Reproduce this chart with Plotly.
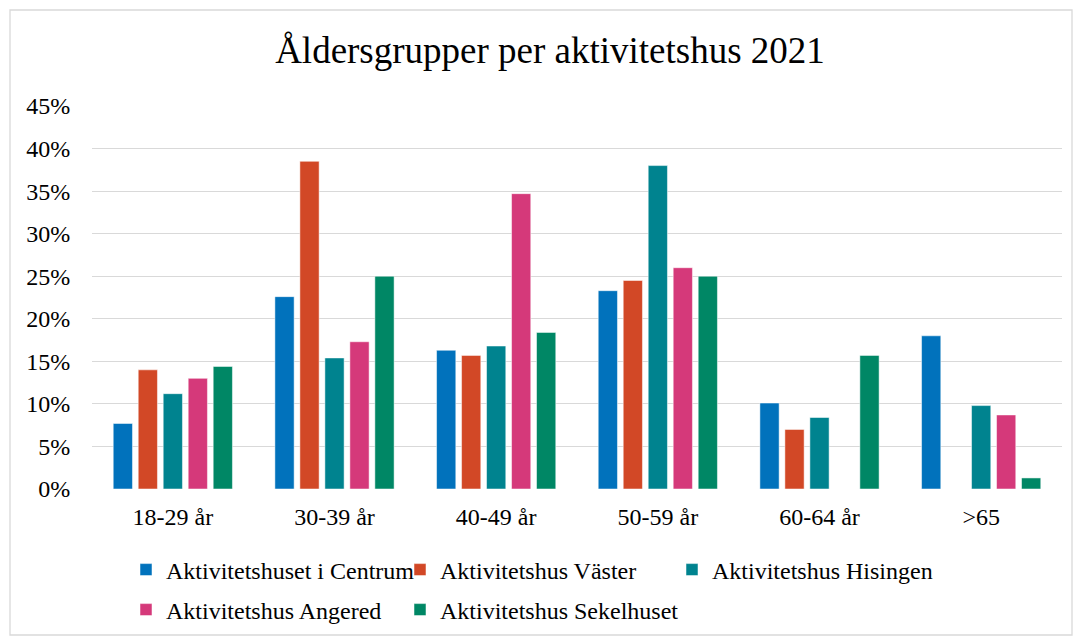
import plotly.graph_objects as go

categories = ["18-29 år", "30-39 år", "40-49 år", "50-59 år", "60-64 år", ">65"]
centrum = [7.7, 22.6, 16.3, 23.3, 10.1, 18.0]
vaster = [14.0, 38.5, 15.7, 24.5, 7.0, None]
hisingen = [11.2, 15.4, 16.8, 38.0, 8.4, 9.8]
angered = [13.0, 17.3, 34.7, 26.0, None, 8.7]
sekelhuset = [14.4, 25.0, 18.4, 25.0, 15.7, 1.3]

series_names = ["Aktivitetshuset i Centrum", "Aktivitetshus Väster", "Aktivitetshus Hisingen",
                "Aktivitetshus Angered", "Aktivitetshus Sekelhuset"]
series_values = [centrum, vaster, hisingen, angered, sekelhuset]
colors = ["#0172BC", "#D24826", "#00838F", "#D5397A", "#008765"]

# legend slots: (text-start x px, row centre y px) for each series
legend_ids = ["legend", "legend2", "legend3", "legend4", "legend5"]
legend_pos = [(168, 570), (442, 570), (714, 570), (168, 610), (442, 610)]

FONT = "Liberation Serif, Times New Roman, serif"

fig = go.Figure()
for name, vals, col, lg in zip(series_names, series_values, colors, legend_ids):
    fig.add_trace(go.Bar(
        name=name, x=categories,
        y=[None if v is None else v / 100 for v in vals],
        marker=dict(color=col, line=dict(color="rgba(255,255,255,0.5)", width=1)),
        legend=lg,
    ))

W, H = 1075, 636
L, R, T, B = 92, 13, 106, 147
pw, ph = W - L - R, H - T - B

def px(x):
    return (x - L) / pw

def py(y):
    return (H - B - y) / ph

legend_layout = {}
for lg, (tx, ty) in zip(legend_ids, legend_pos):
    legend_layout[lg] = dict(
        orientation="h", xanchor="left", yanchor="middle",
        xref="container", yref="container",
        x=(tx - 42) / W, y=1 - ty / H,
        font=dict(family=FONT, size=24, color="#000000"),
        bgcolor="rgba(0,0,0,0)", itemclick=False, itemdoubleclick=False,
    )

fig.update_layout(
    width=W, height=H,
    margin=dict(l=L, r=R, t=T, b=B),
    paper_bgcolor="white", plot_bgcolor="white",
    barmode="group", bargap=0.227, bargroupgap=0.23,
    title=dict(text="Åldersgrupper per aktivitetshus 2021", x=550 / W, xanchor="center",
               y=1 - 50 / H, yanchor="middle",
               font=dict(family=FONT, size=37, color="#000000")),
    font=dict(family=FONT, size=24, color="#000000"),
    xaxis=dict(showgrid=False, showline=False, zeroline=False,
               ticks="outside", ticklen=6, tickcolor="rgba(0,0,0,0)",
               tickfont=dict(family=FONT, size=24, color="#000000")),
    yaxis=dict(range=[0, 0.45], dtick=0.05, tickformat=".0%",
               showgrid=True, gridcolor="#D9D9D9", gridwidth=1.3,
               zeroline=False, showline=False,
               ticks="outside", ticklen=16, tickcolor="rgba(0,0,0,0)",
               tickfont=dict(family=FONT, size=24, color="#000000")),
    showlegend=True,
    shapes=[dict(type="rect", xref="paper", yref="paper",
                 x0=px(10), x1=px(1072), y0=py(635), y1=py(10),
                 line=dict(color="#D9D9D9", width=1.3), fillcolor="rgba(0,0,0,0)",
                 layer="below")],
    **legend_layout,
)

fig.write_html("out.html", config={"displayModeBar": False},
               post_script="document.body.style.margin='0px';document.body.style.overflow='hidden';")
